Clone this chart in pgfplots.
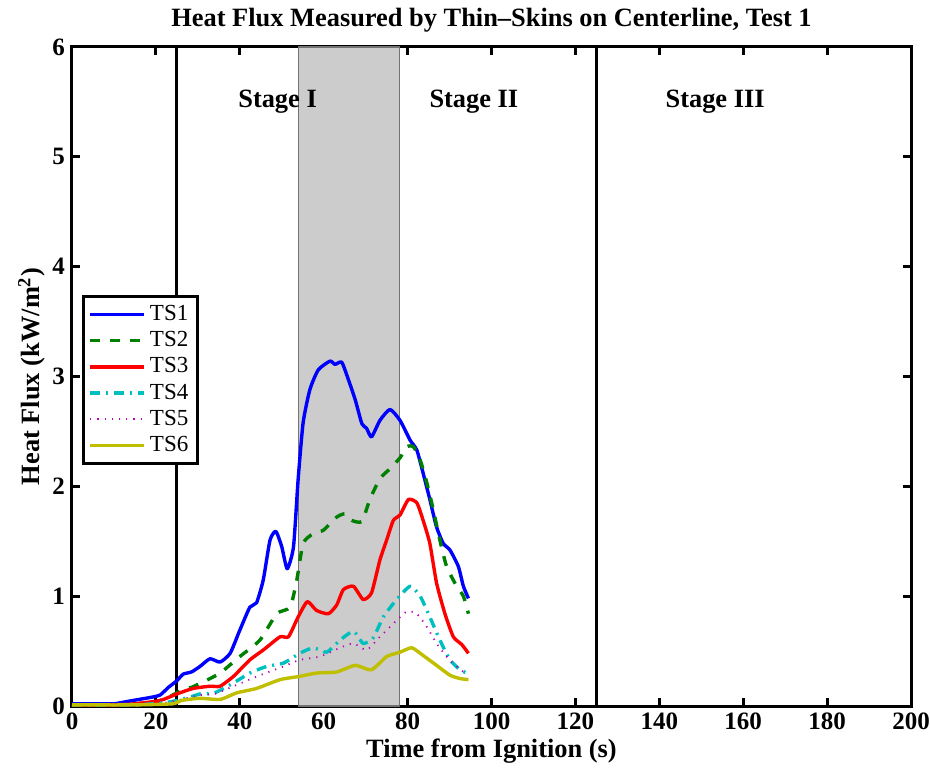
\documentclass[border=0pt]{standalone}
\usepackage{fontspec}
\setmainfont{Liberation Serif}
\usepackage{pgfplots}
\pgfplotsset{compat=1.18}
\definecolor{mblue}{rgb}{0,0,1}
\definecolor{mgreen}{rgb}{0,0.5,0}
\definecolor{mred}{rgb}{1,0,0}
\definecolor{mcyan}{rgb}{0,0.75,0.75}
\definecolor{mmag}{rgb}{0.75,0,0.75}
\definecolor{molive}{rgb}{0.75,0.75,0}
\begin{document}
\begin{tikzpicture}
\path[use as bounding box] (-36pt,-32pt) rectangle (429pt,353pt);
\begin{axis}[
  scale only axis, width=419.5pt, height=329.5pt,
  xmin=0, xmax=200, ymin=0, ymax=6,
  xtick={0,20,...,200}, ytick={0,1,...,6},
  axis line style={line width=1.5pt},
  tick style={line width=1.5pt, black},
  major tick length=4pt,
  tick align=inside,
  /pgf/number format/assume math mode=true,
  tick label style={font=\fontsize{12.5}{14}\selectfont\bfseries},
  title={Heat Flux Measured by Thin--Skins on Centerline, Test 1},
  title style={font=\fontsize{13.2}{15}\selectfont\bfseries, yshift=-2pt},
  xlabel={Time from Ignition (s)},
  ylabel={Heat Flux (kW/m\textsuperscript{2})},
  label style={font=\fontsize{13.2}{15}\selectfont\bfseries},
  xlabel style={yshift=2.5pt},
  ylabel style={yshift=-3pt},
  legend cell align=left,
  legend style={at={(rel axis cs:0.012,0.624)}, anchor=north west,
    draw=black, line width=1.5pt, font=\fontsize{11.5}{12}\selectfont,
    inner sep=2.5pt, row sep=0pt},
  legend image code/.code={\draw[#1] (0pt,0pt) -- (27pt,0pt);},
  every axis plot/.append style={line join=round},
  clip=false,
]
\addplot[fill=black!20, draw=black!55, line width=0.6pt, forget plot] coordinates {(54,0) (78,0) (78,6) (54,6)} -- cycle;
\addplot[black, line width=1.5pt, forget plot] coordinates {(25,0) (25,6)};
\addplot[black, line width=1.5pt, forget plot] coordinates {(125,0) (125,6)};

\addplot[mblue, line width=1.7pt, smooth, tension=0.35] coordinates {
(0,0.02) (5,0.02) (10,0.02) (13,0.04) (16,0.06) (19,0.08) (21,0.10) (23,0.17) (25,0.23) (26.5,0.29) (28.5,0.31) (30.5,0.36) (32.9,0.43) (35.3,0.40) (37.7,0.48) (40,0.69) (42.4,0.90) (44,0.94) (45.6,1.15) (47.2,1.51) (48.6,1.59) (50,1.45) (51.3,1.25) (52.8,1.45) (53.9,2.06) (55.1,2.58) (56.7,2.88) (58.7,3.06) (61.5,3.14) (62.7,3.11) (64.3,3.13) (65.9,2.97) (67.5,2.79) (69.1,2.57) (70.2,2.53) (71.4,2.45) (73.4,2.60) (75.8,2.70) (78.2,2.60) (80.6,2.42) (82.2,2.33) (83.7,2.12) (85.3,1.88) (86.9,1.63) (88.5,1.48) (90.1,1.42) (92.1,1.27) (93.3,1.09) (94.5,0.98)};
\addlegendentry{TS1}
\addplot[mgreen, line width=1.7pt, dash pattern=on 5pt off 5pt, smooth, tension=0.35] coordinates {
(0,0.01) (10,0.01) (15,0.02) (20,0.04) (23,0.08) (26.5,0.15) (28.5,0.17) (31.3,0.22) (35.3,0.30) (40,0.45) (44.8,0.60) (48.8,0.84) (52,0.90) (53.6,1.15) (55.1,1.48) (57.5,1.57) (59.9,1.60) (63.1,1.72) (65.1,1.75) (66.7,1.69) (69.1,1.68) (71,1.88) (73.4,2.07) (75.8,2.16) (78.2,2.26) (79.8,2.36) (81.4,2.36) (83,2.24) (84.6,2.03) (86.1,1.79) (87.7,1.51) (89.3,1.27) (91.7,1.09) (93.3,1.00) (94.5,0.84)};
\addlegendentry{TS2}
\addplot[mred, line width=1.7pt, smooth, tension=0.35] coordinates {
(0,0.01) (10,0.01) (15,0.02) (21,0.05) (25,0.11) (28.9,0.16) (32.9,0.18) (35.3,0.18) (38.5,0.27) (42.4,0.42) (45.6,0.51) (49.6,0.63) (51.6,0.63) (53.9,0.81) (56.1,0.95) (58.3,0.87) (61.1,0.84) (63.1,0.92) (64.7,1.06) (67.1,1.09) (69.4,0.97) (71.4,1.03) (73.4,1.33) (75,1.51) (76.6,1.69) (78.2,1.74) (80.2,1.88) (82.2,1.85) (83.7,1.69) (85.3,1.48) (86.9,1.12) (88.9,0.84) (90.9,0.63) (92.9,0.56) (94.5,0.48)};
\addlegendentry{TS3}
\addplot[mcyan, line width=1.7pt, dash pattern=on 5pt off 3pt on 1pt off 3pt, smooth, tension=0.35] coordinates {
(0,0.01) (15,0.01) (22,0.03) (25,0.05) (28.9,0.09) (30.5,0.11) (34,0.12) (38.5,0.21) (42.4,0.30) (46.4,0.36) (50.4,0.39) (54.3,0.48) (57.5,0.53) (60.7,0.49) (63.9,0.60) (67.1,0.68) (69.4,0.57) (71.8,0.62) (74.2,0.81) (77.4,0.97) (80.6,1.09) (83,1.00) (85.3,0.81) (87.7,0.60) (90.1,0.42) (92.5,0.33) (94.1,0.30)};
\addlegendentry{TS4}
\addplot[mmag, line width=0.9pt, dash pattern=on 0.6pt off 3pt, smooth, tension=0.35] coordinates {
(0,0.01) (15,0.01) (22,0.03) (25,0.05) (30.5,0.10) (34,0.11) (38.5,0.18) (44.8,0.28) (50.4,0.36) (54.3,0.42) (59.1,0.45) (63.9,0.53) (67.1,0.57) (70.2,0.51) (73.4,0.63) (76.6,0.75) (79.8,0.86) (82.2,0.84) (84.6,0.72) (86.9,0.57) (89.3,0.45) (91.7,0.36) (93.7,0.30)};
\addlegendentry{TS5}
\addplot[molive, line width=1.7pt, smooth, tension=0.35] coordinates {
(0,0.01) (15,0.01) (24,0.02) (26,0.05) (30.5,0.07) (35.3,0.06) (39.3,0.12) (44,0.16) (49.6,0.24) (54.3,0.27) (58.3,0.30) (63.1,0.31) (67.5,0.37) (71.4,0.33) (75,0.45) (78.2,0.49) (81,0.53) (83.7,0.46) (86.9,0.37) (90.1,0.28) (92.5,0.25) (94.5,0.24)};
\addlegendentry{TS6}

\node[font=\fontsize{13.2}{15}\selectfont\bfseries] at (axis cs:49,5.5) {Stage I};
\node[font=\fontsize{13.2}{15}\selectfont\bfseries] at (axis cs:95.8,5.5) {Stage II};
\node[font=\fontsize{13.2}{15}\selectfont\bfseries] at (axis cs:153.3,5.5) {Stage III};
\end{axis}
\end{tikzpicture}
\end{document}
